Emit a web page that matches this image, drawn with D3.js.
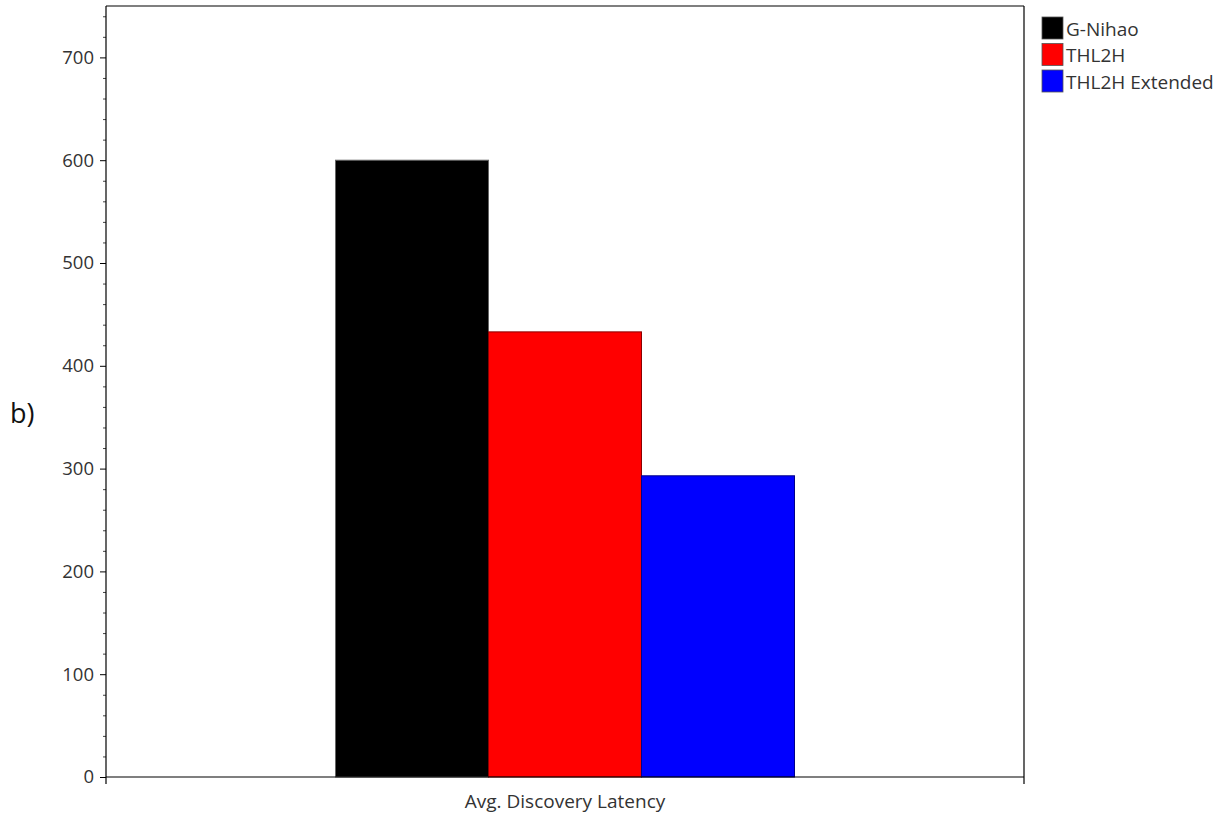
<!DOCTYPE html>
<html>
<head>
<meta charset="utf-8">
<script src="https://cdn.jsdelivr.net/npm/d3@7"></script>
<style>
  html, body { margin: 0; padding: 0; background: #fff; }
  svg { display: block; font-family: "Open Sans", "Noto Sans", sans-serif; }
</style>
</head>
<body>
<svg id="chart" width="1225" height="817"></svg>
<script>
// Chart data
const categories = ["Avg. Discovery Latency"];
const seriesNames = ["G-Nihao", "THL2H", "THL2H Extended"];
const seriesValues = [600, 433, 293];
const seriesColors = ["#000000", "#ff0000", "#0000ff"];
const seriesStrokes = ["#666666", "#8b0000", "#00008b"];
const yMajorTicks = [0, 100, 200, 300, 400, 500, 600, 700];
const yMinorTicks = d3.range(0, 750, 20).filter(v => v % 100 !== 0);
const panelLabel = "b)";

const svg = d3.select("#chart");
const plot = { left: 106, right: 1024, top: 6, bottom: 777 };

const y = d3.scaleLinear().domain([0, 750]).range([plot.bottom, plot.top]);
const x = d3.scaleBand().domain(categories).range([plot.left, plot.right]).padding(0);
const xInner = d3.scaleBand().domain(seriesNames)
  .range([x.bandwidth() * 0.25, x.bandwidth() * 0.75]).padding(0);

// Bars
const g = svg.append("g");
categories.forEach(cat => {
  g.selectAll("rect.bar")
    .data(seriesNames.map((s, i) => ({ s, v: seriesValues[i], i })))
    .join("rect")
    .attr("class", "bar")
    .attr("x", d => x(cat) + xInner(d.s))
    .attr("width", xInner.bandwidth())
    .attr("y", d => y(d.v))
    .attr("height", d => y(0) - y(d.v))
    .attr("fill", d => seriesColors[d.i])
    .attr("stroke", d => seriesStrokes[d.i])
    .attr("stroke-width", 1);
});

// Y axis: major ticks with labels
const yAxis = svg.append("g")
  .attr("transform", `translate(${plot.left},0)`)
  .call(d3.axisLeft(y).tickValues(yMajorTicks).tickSize(6).tickPadding(6).tickFormat(d3.format("d")));
yAxis.select(".domain").remove();
yAxis.selectAll("text").attr("font-size", 18.5).attr("fill", "#333").attr("font-family", "\"Open Sans\", \"Noto Sans\", sans-serif");
yAxis.selectAll("line").attr("stroke", "#000");

// Y axis: minor ticks
svg.append("g")
  .attr("transform", `translate(${plot.left},0)`)
  .call(d3.axisLeft(y).tickValues(yMinorTicks).tickSize(3).tickFormat(""))
  .call(a => a.select(".domain").remove())
  .selectAll("line").attr("stroke", "#444");

// X axis category label
const xAxis = svg.append("g")
  .attr("transform", `translate(0,${plot.bottom})`)
  .call(d3.axisBottom(x).tickSize(0).tickPadding(18));
xAxis.select(".domain").remove();
xAxis.selectAll("text").attr("font-size", 19).attr("fill", "#333").attr("font-family", "\"Open Sans\", \"Noto Sans\", sans-serif");
const edges = [x.range()[0], x.range()[1]];

// Frame lines
const frame = svg.append("g").attr("stroke", "#000").attr("stroke-width", 1.2).attr("fill", "none");
frame.append("line").attr("x1", plot.left).attr("x2", plot.left).attr("y1", plot.top).attr("y2", plot.bottom + 7);
frame.append("line").attr("x1", plot.right).attr("x2", plot.right).attr("y1", plot.top).attr("y2", plot.bottom + 7);
frame.append("line").attr("x1", plot.left).attr("x2", plot.right).attr("y1", plot.top).attr("y2", plot.top);
frame.append("line").attr("x1", edges[0]).attr("x2", edges[1]).attr("y1", plot.bottom).attr("y2", plot.bottom);

// Legend
const legend = svg.append("g").attr("transform", "translate(1042,17)");
seriesNames.forEach((s, i) => {
  const row = legend.append("g").attr("transform", `translate(0,${i * 26.5})`);
  row.append("rect").attr("width", 21).attr("height", 22)
    .attr("fill", seriesColors[i]).attr("stroke", "#555").attr("stroke-width", 0.8);
  row.append("text").attr("x", 24).attr("y", 12).attr("dy", "0.35em")
    .attr("font-size", 19).attr("fill", "#333").text(s);
});

// Panel label
svg.append("text").attr("x", 10).attr("y", 414).attr("dy", "0.35em")
  .attr("font-size", 27).attr("fill", "#111").text(panelLabel);
</script>
</body>
</html>
